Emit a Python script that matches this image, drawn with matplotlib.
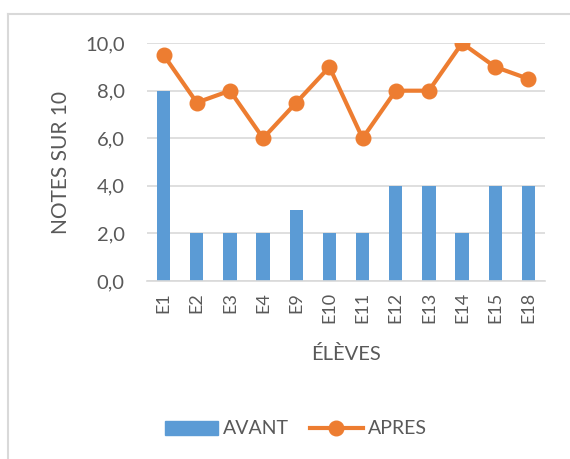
"""Notes sur 10 avant / après, par élève (barres + courbe, style Excel)."""

import matplotlib

matplotlib.use("Agg")
import matplotlib.pyplot as plt  # noqa: E402
from matplotlib.lines import Line2D  # noqa: E402
from matplotlib.ticker import FuncFormatter  # noqa: E402

ELEVES = ["E1", "E2", "E3", "E4", "E9", "E10", "E11", "E12", "E13", "E14", "E15", "E18"]
AVANT = [8, 2, 2, 2, 3, 2, 2, 4, 4, 2, 4, 4]
APRES = [9.5, 7.5, 8, 6, 7.5, 9, 6, 8, 8, 10, 9, 8.5]

BLUE = "#5B9BD5"
ORANGE = "#ED7D31"
GRID = "#D9D9D9"
TEXT = "#595959"

plt.rcParams["font.family"] = ["Lato", "DejaVu Sans"]

fig = plt.figure(figsize=(5.70, 4.59), dpi=100)
ax = fig.add_axes([0.258, 0.388, 0.698, 0.518])

x = range(len(ELEVES))
ax.bar(x, AVANT, width=0.4, color=BLUE, zorder=2, label="AVANT")
ax.plot(x, APRES, color=ORANGE, lw=3, marker="o", ms=10.5, zorder=3,
        label="APRES")

ax.set_xlim(-0.5, len(ELEVES) - 0.5)
ax.set_ylim(0, 10)
ax.set_yticks([0, 2, 4, 6, 8, 10])
ax.yaxis.set_major_formatter(FuncFormatter(lambda v, _: f"{v:.1f}".replace(".", ",")))
ax.set_xticks(list(x))
ax.set_xticklabels(ELEVES, rotation=90)
ax.tick_params(axis="both", length=0, colors=TEXT, labelsize=13)
ax.tick_params(axis="y", pad=16, labelsize=14.5)
ax.tick_params(axis="x", pad=8)
ax.grid(axis="y", color=GRID, lw=1.2, zorder=0)
for side in ("top", "right", "left"):
    ax.spines[side].set_visible(False)
ax.spines["bottom"].set_color(GRID)
ax.spines["bottom"].set_linewidth(1.2)

ax.set_ylabel("NOTES SUR 10", color=TEXT, fontsize=15, labelpad=10)
ax.set_xlabel("ÉLÈVES", color=TEXT, fontsize=14.5, labelpad=16)

handles = [
    plt.Rectangle((0, 0), 1, 1, color=BLUE),
    Line2D([], [], color=ORANGE, lw=3, marker="o", ms=10.5),
]
fig.legend(handles, ["AVANT", "APRES"], loc="center",
           bbox_to_anchor=(296 / 570, 1 - 429 / 459), ncol=2, frameon=False,
           fontsize=14, labelcolor=TEXT, handlelength=2.7, handletextpad=0.25,
           columnspacing=1.1)

# cadre de la zone de graphique (bords haut et gauche visibles)
fig.add_artist(Line2D([8 / 570, 8 / 570], [0, 1 - 14 / 459], color=GRID, lw=1.5,
                      transform=fig.transFigure))
fig.add_artist(Line2D([8 / 570, 1], [1 - 14 / 459, 1 - 14 / 459], color=GRID, lw=1.5,
                      transform=fig.transFigure))

fig.savefig("out.png", dpi=100)
